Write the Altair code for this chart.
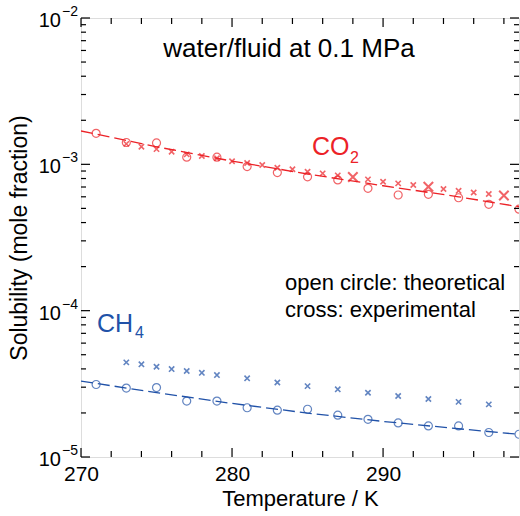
import altair as alt
import pandas as pd

# ---- data -------------------------------------------------------------
# CO2 in water, theoretical (open circles)
co2_theo_T = [271, 273, 275, 277, 279, 281, 283, 285, 287, 289, 291, 293, 295, 297, 299]
co2_theo = [1.63e-3, 1.41e-3, 1.40e-3, 1.12e-3, 1.12e-3, 9.65e-4, 8.78e-4, 8.22e-4,
            7.82e-4, 6.86e-4, 6.17e-4, 6.24e-4, 5.91e-4, 5.33e-4, 4.94e-4]

# CO2 in water, experimental (small crosses)
co2_exp_T = [273, 274, 275, 276, 277, 278, 279, 280, 281, 282, 283, 284, 285, 286, 287,
             289, 290, 291, 292, 294, 295, 296, 297]
co2_exp = [1.38e-3, 1.32e-3, 1.27e-3, 1.22e-3, 1.17e-3, 1.14e-3, 1.10e-3, 1.05e-3, 1.02e-3,
           9.89e-4, 9.48e-4, 9.26e-4, 8.90e-4, 8.67e-4, 8.40e-4,
           7.89e-4, 7.60e-4, 7.41e-4, 7.22e-4, 6.78e-4, 6.59e-4, 6.42e-4, 6.27e-4]

# CO2 in water, second experimental set (large crosses)
co2_exp2_T = [288, 293, 298]
co2_exp2 = [8.19e-4, 7.03e-4, 6.12e-4]

# CO2 correlation curve (dashed)
co2_fit_T = [270, 275, 280, 285, 290, 295, 299]
co2_fit = [1.690e-3, 1.318e-3, 1.052e-3, 8.59e-4, 7.14e-4, 6.00e-4, 5.13e-4]

# CH4 in water, theoretical (open circles)
ch4_theo_T = [271, 273, 275, 277, 279, 281, 283, 285, 287, 289, 291, 293, 295, 297, 299]
ch4_theo = [3.13e-5, 2.96e-5, 2.98e-5, 2.41e-5, 2.41e-5, 2.17e-5, 2.09e-5, 2.12e-5,
            1.93e-5, 1.81e-5, 1.71e-5, 1.63e-5, 1.63e-5, 1.47e-5, 1.43e-5]

# CH4 in water, experimental (crosses)
ch4_exp_T = [273, 274, 275, 276, 277, 278, 279, 281, 283, 285, 287, 289, 291, 293, 295, 297]
ch4_exp = [4.43e-5, 4.30e-5, 4.14e-5, 3.99e-5, 3.87e-5, 3.76e-5, 3.63e-5, 3.45e-5,
           3.23e-5, 3.05e-5, 2.90e-5, 2.75e-5, 2.61e-5, 2.49e-5, 2.38e-5, 2.29e-5]

# CH4 correlation curve (dashed)
ch4_fit_T = [270, 275, 280, 285, 290, 295, 299]
ch4_fit = [3.30e-5, 2.754e-5, 2.323e-5, 1.995e-5, 1.750e-5, 1.560e-5, 1.429e-5]

# axis ticks
x_minor_ticks = [272, 274, 276, 278, 282, 284, 286, 288, 292, 294, 296, 298]
x_major_ticks = [270, 280, 290]
y_exponents = [-2, -3, -4, -5]
y_minor_mult = [2, 3, 4, 5, 6, 7, 8, 9]

# ---- styling ----------------------------------------------------------
W, H = 438, 439
RED = "#ec2227"
BLUE = "#2152a8"
FONT = "Liberation Sans"
CROSS = "M-1,-1L1,1M-1,1L1,-1"

xscale = alt.Scale(domain=[270, 299], nice=False, zero=False)
yscale = alt.Scale(type="log", domain=[1e-5, 1e-2], nice=False)

x_axis = alt.Axis(values=x_major_ticks, ticks=False, domain=False, grid=False,
                  labelFontSize=21, labelFont=FONT, labelColor="black", labelPadding=6,
                  labelFlush=False, title="Temperature / K", titleFontSize=22,
                  titleFont=FONT, titleFontWeight="normal", titleColor="black",
                  titlePadding=4)
y_axis = alt.Axis(labels=False, ticks=False, domain=False, grid=False,
                  title="Solubility (mole fraction)", titleFontSize=23, titleFont=FONT,
                  titleFontWeight="normal", titleColor="black", titlePadding=50)


def X(field):
    return alt.X(field, type="quantitative", scale=xscale, axis=x_axis)


def Y(field):
    return alt.Y(field, type="quantitative", scale=yscale, axis=y_axis)


def frame(T, v):
    return pd.DataFrame({"T": T, "v": v})


layers = []

# dashed correlation curves
for T, v, c in [(co2_fit_T, co2_fit, RED), (ch4_fit_T, ch4_fit, BLUE)]:
    layers.append(
        alt.Chart(frame(T, v)).mark_line(color=c, strokeWidth=1.3, strokeDash=[12, 5], clip=True)
        .encode(x=X("T"), y=Y("v"))
    )

# theoretical points: open circles
for T, v, c in [(co2_theo_T, co2_theo, RED), (ch4_theo_T, ch4_theo, BLUE)]:
    layers.append(
        alt.Chart(frame(T, v)).mark_point(shape="circle", filled=False, size=64,
                                          strokeWidth=1.2, color=c, clip=True)
        .encode(x=X("T"), y=Y("v"))
    )

# experimental points: crosses
for T, v, c, s, sw in [(co2_exp_T, co2_exp, RED, 28, 1.6),
                       (co2_exp2_T, co2_exp2, RED, 90, 2.0),
                       (ch4_exp_T, ch4_exp, BLUE, 28, 1.6)]:
    layers.append(
        alt.Chart(frame(T, v)).mark_point(shape=CROSS, filled=False, size=s,
                                          strokeWidth=sw, color=c, clip=True)
        .encode(x=X("T"), y=Y("v"))
    )

# inward ticks on all four sides
x_tick_df_minor = pd.DataFrame({"T": x_minor_ticks})
x_tick_df_major = pd.DataFrame({"T": x_major_ticks})
for df, ln in [(x_tick_df_minor, 6), (x_tick_df_major, 9)]:
    base = alt.Chart(df).mark_rule(color="black", strokeWidth=1.2)
    layers.append(base.encode(x=X("T"), y=alt.value(H), y2=alt.value(H - ln)))
    layers.append(base.encode(x=X("T"), y=alt.value(0), y2=alt.value(ln)))

y_major = [10.0 ** e for e in y_exponents]
y_minor = [m * 10.0 ** e for e in y_exponents[1:] for m in y_minor_mult]
for vals, ln in [(y_minor, 5), (y_major, 9)]:
    base = alt.Chart(pd.DataFrame({"v": vals})).mark_rule(color="black", strokeWidth=1.2)
    layers.append(base.encode(y=Y("v"), x=alt.value(0), x2=alt.value(ln)))
    layers.append(base.encode(y=Y("v"), x=alt.value(W), x2=alt.value(W - ln)))

# y tick labels as 10 with a superscript exponent
ylab = pd.DataFrame({"v": y_major,
                     "base": ["10"] * len(y_exponents),
                     "exp": ["\u2212" + str(abs(e)) for e in y_exponents]})
layers.append(
    alt.Chart(ylab).mark_text(align="right", baseline="middle", fontSize=20, font=FONT,
                              color="black", dy=3)
    .encode(x=alt.value(-20), y=Y("v"), text="base:N")
)
layers.append(
    alt.Chart(ylab).mark_text(align="right", baseline="middle", fontSize=14, font=FONT,
                              color="black", dy=-6)
    .encode(x=alt.value(-3), y=Y("v"), text="exp:N")
)


def note(T, v, text, size, color, align="left", dx=0, dy=0):
    df = pd.DataFrame({"T": [T], "v": [v], "t": [text]})
    return alt.Chart(df).mark_text(align=align, baseline="alphabetic", fontSize=size,
                                   font=FONT, color=color, dx=dx, dy=dy).encode(
        x=X("T"), y=Y("v"), text="t:N")


layers += [
    note(283.77, 5.41e-3, "water/fluid at 0.1 MPa", 26, "black", align="center"),
    note(285.29, 1.159e-3, "CO", 25, RED),
    note(285.29, 1.159e-3, "2", 16, RED, dx=38, dy=8),
    note(271.06, 7.14e-5, "CH", 25, BLUE),
    note(271.06, 7.14e-5, "4", 16, BLUE, dx=38, dy=6),
    note(283.51, 1.383e-4, "open circle: theoretical", 22, "black"),
    note(283.51, 9.06e-5, "cross: experimental", 22, "black"),
]

chart = (
    alt.layer(*layers)
    .properties(width=W, height=H,
                autosize=alt.AutoSizeParams(type="none"),
                padding={"left": 81, "top": 18, "right": 1, "bottom": 59})
    .configure_view(stroke="black", strokeWidth=1.5)
    .configure(background="white")
)

chart.save("out.html", embed_options={"renderer": "svg", "actions": False})
